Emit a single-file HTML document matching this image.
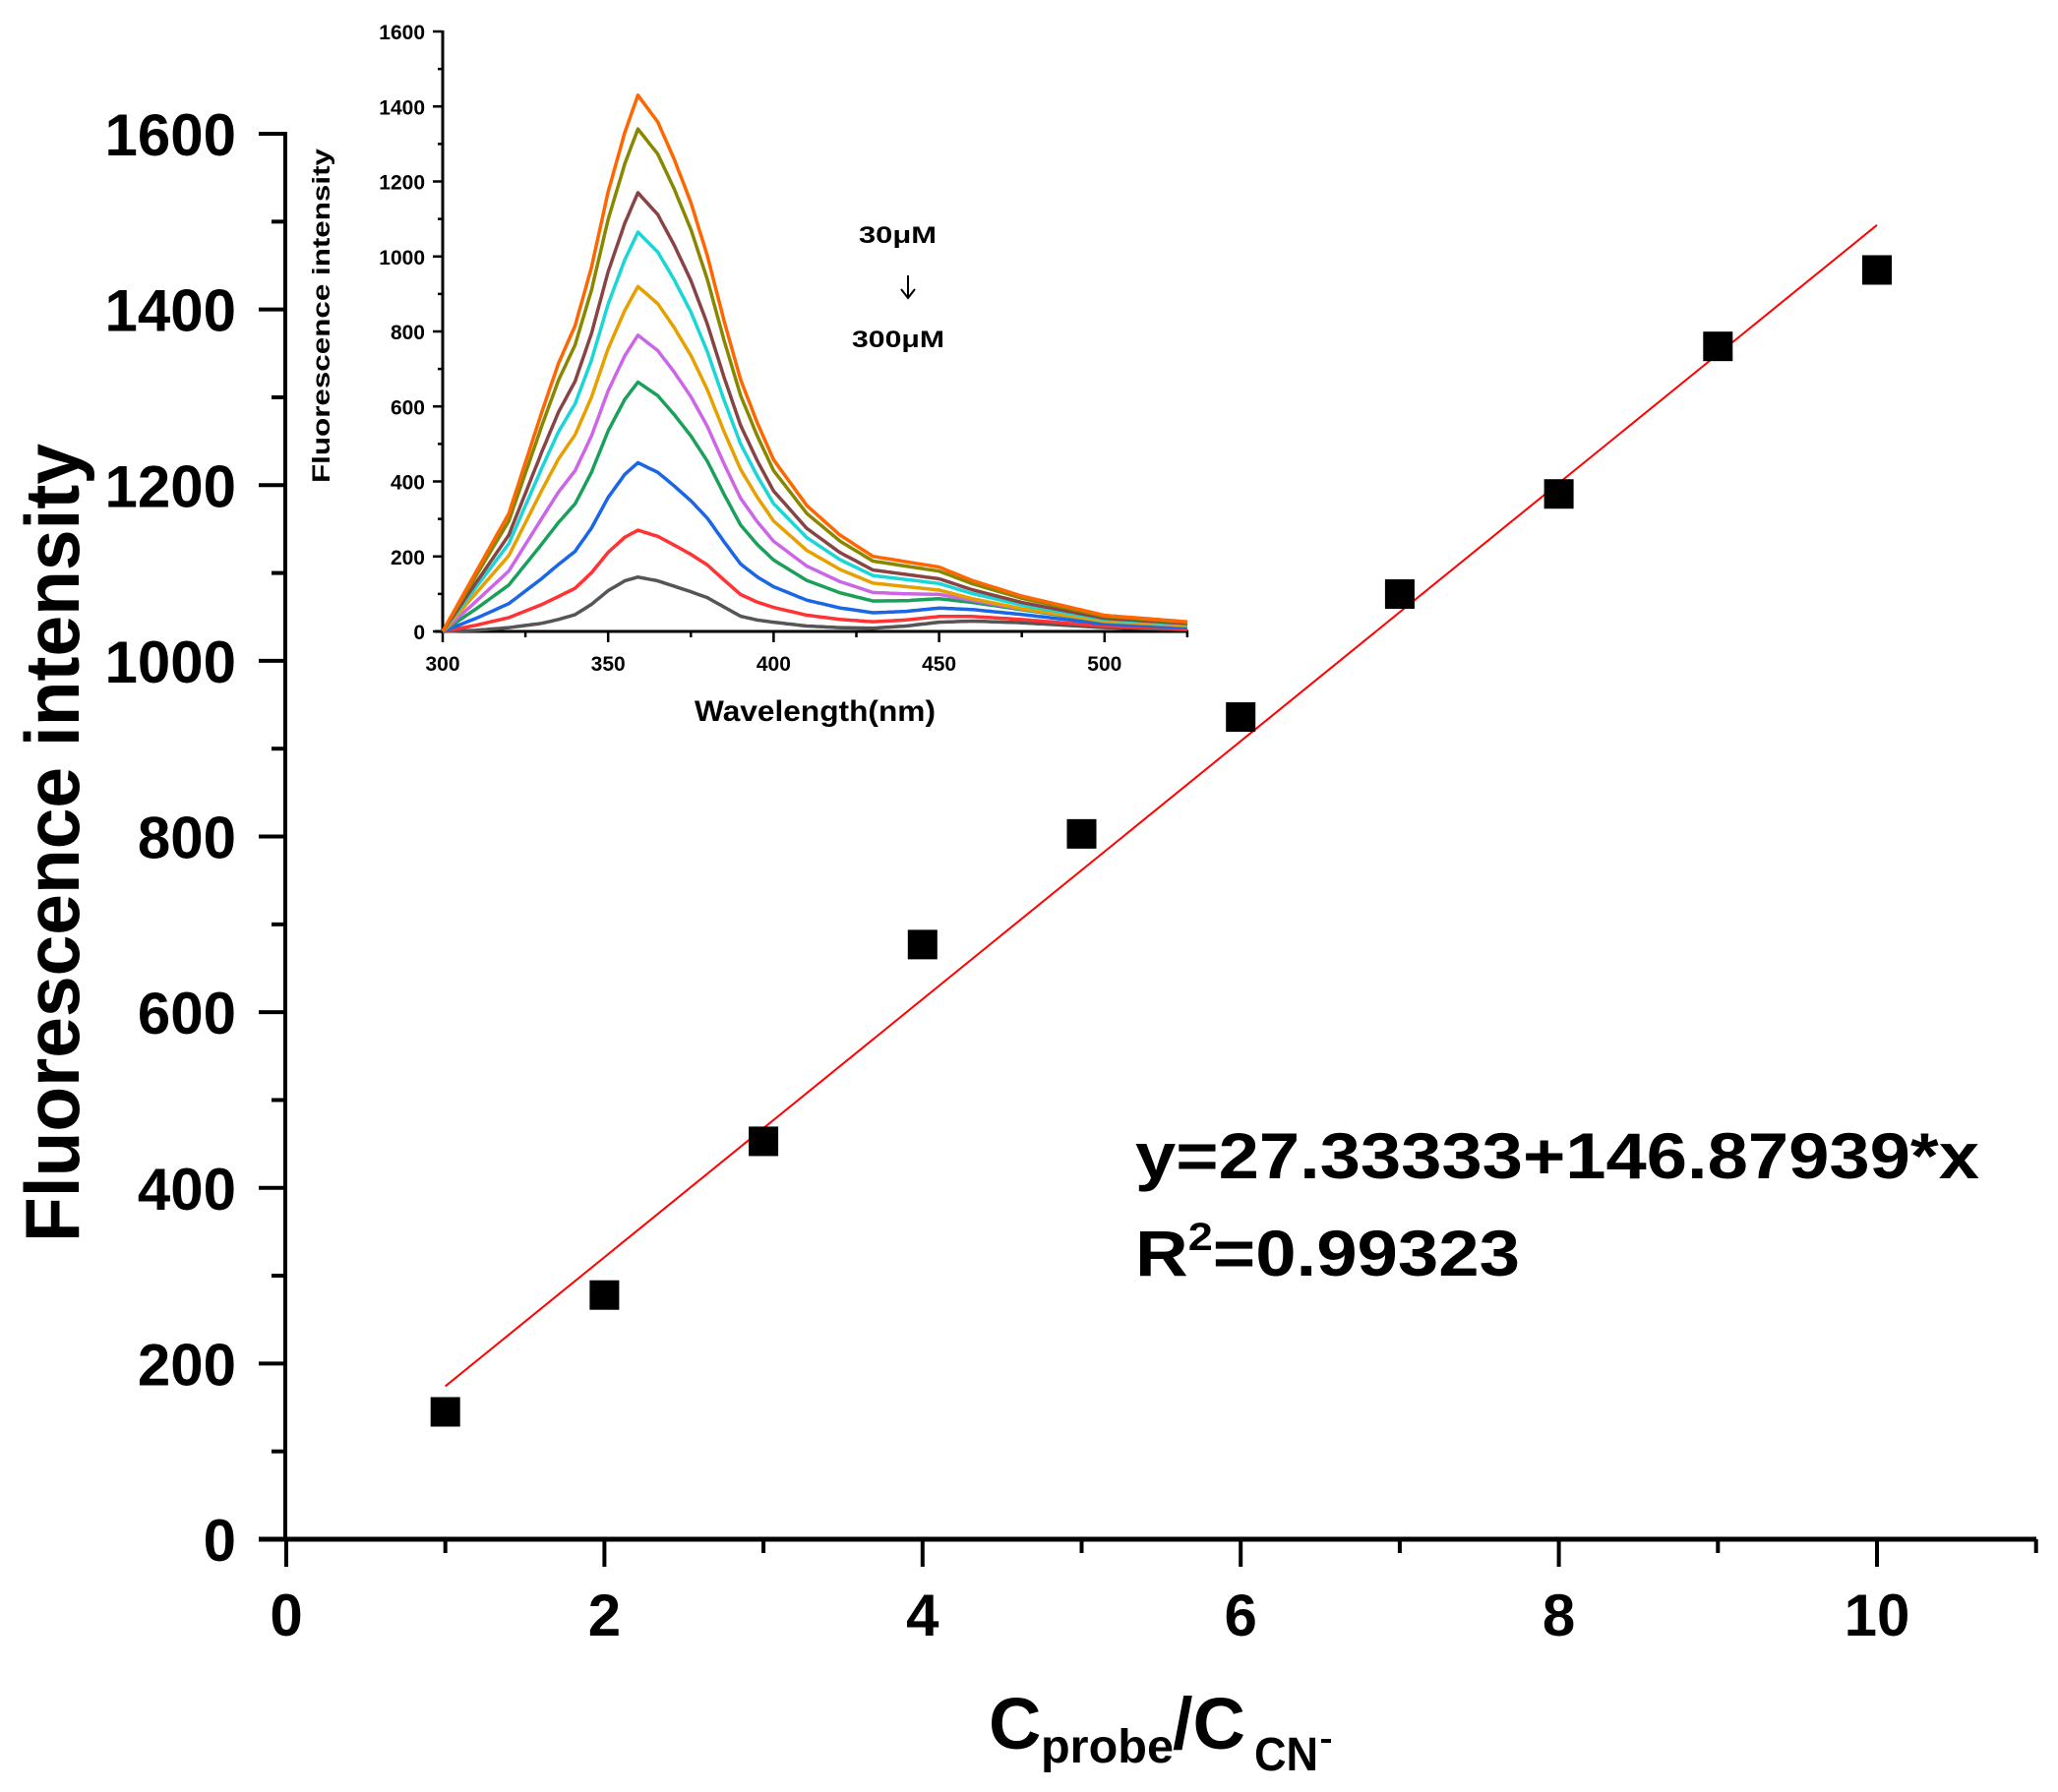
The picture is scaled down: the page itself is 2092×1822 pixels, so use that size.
<!DOCTYPE html>
<html><head><meta charset="utf-8"><style>html,body{margin:0;padding:0;background:#fff}svg{display:block}text{font-family:"Liberation Sans",Arial,sans-serif;font-weight:bold}</style></head>
<body>
<svg id="s" width="2092" height="1822" viewBox="0 0 2092 1822" xmlns="http://www.w3.org/2000/svg">
<rect width="2092" height="1822" fill="#fff"/>
<g id="main"></g>
<g id="inset"></g>
<text x="1154" y="1198" font-size="66" textLength="858" lengthAdjust="spacingAndGlyphs">y=27.33333+146.87939*x</text>
<text x="1154" y="1297" font-size="66" textLength="391" lengthAdjust="spacingAndGlyphs">R<tspan font-size="40" dy="-26">2</tspan><tspan dy="26">=0.99323</tspan></text>
<text transform="translate(80,857) rotate(-90)" text-anchor="middle" font-size="78" textLength="812" lengthAdjust="spacingAndGlyphs">Fluorescence intensity</text>
<text x="1005" y="1778" font-size="74">C</text>
<text x="1058" y="1792" font-size="48" textLength="135" lengthAdjust="spacingAndGlyphs">probe</text>
<text x="1192" y="1778" font-size="74">/C</text>
<text x="1275" y="1800" font-size="48" textLength="65" lengthAdjust="spacingAndGlyphs">CN</text>
<rect x="1343" y="1768" width="10" height="4" fill="#000"/>
<text x="706" y="733" font-size="30" textLength="245" lengthAdjust="spacingAndGlyphs">Wavelength(nm)</text>
<text transform="translate(335,321) rotate(-90)" text-anchor="middle" font-size="25" textLength="340" lengthAdjust="spacingAndGlyphs">Fluorescence intensity</text>
<text x="873" y="247" font-size="24" textLength="79" lengthAdjust="spacingAndGlyphs">30μM</text>
<line x1="923" y1="280" x2="923" y2="302" stroke="#000" stroke-width="2"/>
<path d="M916,294 L923,303 L930,294" fill="none" stroke="#000" stroke-width="2"/>
<text x="866" y="353" font-size="24" textLength="94" lengthAdjust="spacingAndGlyphs">300μM</text>
</svg>
<script>
var NS="http://www.w3.org/2000/svg";
function el(p,t,a,txt){var e=document.createElementNS(NS,t);for(var k in a)e.setAttribute(k,a[k]);if(txt!==undefined)e.textContent=txt;p.appendChild(e);return e;}
var m=document.getElementById("main");
var X=function(v){return 291+v*161.7},Y=function(v){return 1565-v*0.8931};
el(m,"line",{x1:290,y1:134,x2:290,y2:1567,stroke:"#000","stroke-width":4});
el(m,"line",{x1:263,y1:1565,x2:2070,y2:1565,stroke:"#000","stroke-width":5});
for(var v=0;v<=1600;v+=100){var y=Y(v);var maj=v%200==0;el(m,"line",{x1:maj?263:276,y1:y,x2:290,y2:y,stroke:"#000","stroke-width":4});
 if(maj)el(m,"text",{x:240,y:y+22,"font-size":60,"text-anchor":"end"},String(v));}
for(var i=0;i<=11;i++){var x=X(i);var maj=i%2==0;el(m,"line",{x1:x,y1:1565,x2:x,y2:maj?1593:1579,stroke:"#000","stroke-width":4});
 if(maj)el(m,"text",{x:x,y:1663,"font-size":60,"text-anchor":"middle"},String(i));}
var d=[145,278,453,677,803,936,1076,1190,1358,1445];
el(m,"line",{x1:X(1),y1:Y(174.2),x2:X(10),y2:Y(1496.1),stroke:"#f00","stroke-width":2});
d.forEach(function(v,i){el(m,"rect",{x:X(i+1)-15,y:Y(v)-15,width:30,height:30,fill:"#000"});});
var g=document.getElementById("inset");
var XI=function(w){return 450+(w-300)*3.364},YI=function(v){return 642-v*0.38125};
el(g,"line",{x1:450,y1:31,x2:450,y2:644,stroke:"#000","stroke-width":3});
el(g,"line",{x1:442,y1:642,x2:1208,y2:642,stroke:"#000","stroke-width":3});
for(var v=0;v<=1600;v+=100){var y=YI(v);var maj=v%200==0;el(g,"line",{x1:maj?440:445,y1:y,x2:450,y2:y,stroke:"#000","stroke-width":2.5});
 if(maj)el(g,"text",{x:432,y:y+8,"font-size":21,"text-anchor":"end"},String(v));}
for(var w=300;w<=525;w+=25){var x=XI(w);var maj=w%50==0;el(g,"line",{x1:x,y1:642,x2:x,y2:maj?653:648,stroke:"#000","stroke-width":2.5});
 if(maj)el(g,"text",{x:x,y:682,"font-size":21,"text-anchor":"middle"},String(w));}
var K=[300,310,320,330,335,340,345,350,355,359,365,370,375,380,385,390,395,400,410,420,430,440,450,460,475,500,525];
var OR=[0,.11,.22,.41,.5,.57,.68,.82,.93,1,.95,.88,.8,.70,.58,.47,.39,.32,.235,.18,.14,.13,.12,.095,.066,.03,.018];
var BL=[0,.02,.07,.15,.22,.31,.5,.75,.93,1,.93,.83,.73,.62,.45,.28,.21,.17,.1,.07,.06,.1,.17,.19,.16,.07,.03];
function interp(tab,w){for(var i=0;i<K.length-1;i++){if(w<=K[i+1]){var t=(w-K[i])/(K[i+1]-K[i]);return tab[i]+(tab[i+1]-tab[i])*t;}}return tab[tab.length-1];}
var peaks=[145,270,450,665,790,920,1065,1170,1340,1430];
var cols=["#555555","#ff3333","#1a66e6","#1aa05a","#cc66e6","#e6a000","#1ad6d6","#884444","#888800","#ff6600"];
peaks.forEach(function(A,k){var t=Math.min(1,Math.sqrt(k/5));var pts=[];for(var w=300;w<=525;w+=1){
 var v=A*((1-t)*interp(BL,w)+t*interp(OR,w));pts.push(XI(w).toFixed(1)+","+YI(v).toFixed(1));}
 el(g,"polyline",{points:pts.join(" "),fill:"none",stroke:cols[k],"stroke-width":3.5,"stroke-linejoin":"round"});});
</script>
</body></html>
